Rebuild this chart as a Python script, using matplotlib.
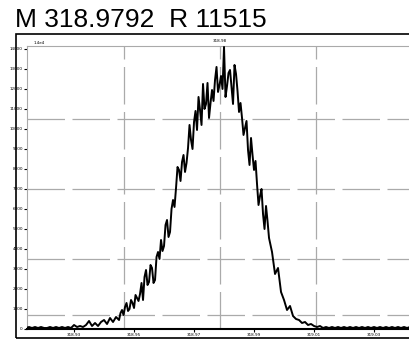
import matplotlib
matplotlib.use("Agg")
import matplotlib.pyplot as plt
from matplotlib.patches import Rectangle

# profile spectrum (m/z, counts)
mz = [318.914, 318.915, 318.916, 318.917, 318.918, 318.919, 318.920, 318.921, 318.922, 318.923,
      318.924, 318.925, 318.926, 318.927, 318.928, 318.929,
      318.930, 318.931, 318.932, 318.933, 318.934, 318.935, 318.936, 318.937, 318.938, 318.939,
      318.940, 318.941, 318.942, 318.943, 318.944,
      318.9450, 318.9455, 318.9460, 318.9465, 318.9470, 318.9475, 318.9480, 318.9485, 318.9490, 318.9495,
      318.9500, 318.9505, 318.9510, 318.9515, 318.9520, 318.9525, 318.9530, 318.9535, 318.9540, 318.9545,
      318.9550, 318.9555, 318.9560, 318.9565, 318.9570, 318.9575, 318.9580, 318.9585, 318.9590, 318.9595,
      318.9600, 318.9605, 318.9610, 318.9615, 318.9620, 318.9625, 318.9630, 318.9635, 318.9640, 318.9645,
      318.9650, 318.9655, 318.9660, 318.9665, 318.9670, 318.9675, 318.9680, 318.9685, 318.9690, 318.9695,
      318.9700, 318.9705, 318.9710, 318.9715, 318.9720, 318.9725, 318.9730, 318.9735, 318.9740, 318.9745,
      318.9750, 318.9755, 318.9760, 318.9765, 318.9770, 318.9775, 318.9780, 318.9785, 318.9790, 318.9795,
      318.9800, 318.9805, 318.9810, 318.9815, 318.9820, 318.9825, 318.9830, 318.9835, 318.9840, 318.9845,
      318.9850, 318.9855, 318.9860, 318.9865, 318.9870, 318.9875, 318.9880, 318.9885, 318.9890, 318.9895,
      318.9900, 318.9905, 318.9910, 318.9915, 318.9920, 318.9925, 318.9930, 318.9935, 318.9940, 318.9945,
      318.9950,
      318.996, 318.997, 318.998, 318.999,
      319.000, 319.001, 319.002, 319.003, 319.004, 319.005, 319.006, 319.007, 319.008, 319.009,
      319.010, 319.011, 319.012, 319.013,
      319.014, 319.015, 319.016, 319.017, 319.018, 319.019, 319.020, 319.021, 319.022, 319.023,
      319.024, 319.025, 319.026, 319.027, 319.028, 319.029, 319.030, 319.031, 319.032, 319.033,
      319.034, 319.035, 319.036, 319.037, 319.038, 319.039, 319.040, 319.041, 319.042]
counts = [50, 100, 50, 100, 50, 100, 50, 50, 100, 50, 100, 50, 100, 50, 100, 50,
          200, 100, 150, 100, 200, 400, 150, 300, 150, 350,
          450, 250, 550, 350, 600,
          450, 800, 950, 700, 1100, 1300, 900, 1000, 1450, 1300,
          1050, 1700, 1550, 1400, 1750, 2300, 1450, 2600, 2950, 2200,
          2350, 3200, 3050, 2300, 2450, 3600, 3850, 3500, 4450, 3900,
          4150, 5200, 5450, 4600, 4850, 6000, 6450, 6100, 7050, 8100,
          7950, 7400, 8350, 8700, 7850, 8300, 9050, 10200, 9450, 9000,
          10350, 10900, 9950, 11600, 10950, 10200, 12250, 11000, 11250, 12300,
          10550, 11300, 11950, 11400, 12450, 13100, 11850, 12200, 12650, 12000,
          14100, 11600, 12150, 12800, 12950, 12100, 11250, 13200, 12750, 11900,
          10850, 11300, 10550, 9700, 10050, 10400, 8950, 8200, 9550, 8700,
          7950, 8400, 7250, 6200, 6650, 7000, 5750, 5000, 6150, 5400,
          4550,
          3850, 2750, 3050, 1850,
          1450, 950, 1150, 650, 500, 450, 300, 350, 200, 250,
          150, 100, 150, 50,
          100, 50, 100, 50, 100, 50, 100, 50, 100, 50,
          100, 50, 100, 50, 100, 50, 100, 50, 100, 50,
          100, 50, 100, 50, 100, 50, 100, 50, 100]

xticks = [318.93, 318.95, 318.97, 318.99, 319.01, 319.03]
xtick_labels = ["318.93", "318.95", "318.97", "318.99", "319.01", "319.03"]
yticks = [0, 1000, 2000, 3000, 4000, 5000, 6000, 7000, 8000, 9000, 10000, 11000, 12000, 13000, 14000]
grid_mz = [318.9467, 318.9787, 319.0107]
grid_counts = [700, 3500, 7000, 10500]

title = "M 318.9792  R 11515"

fig = plt.figure(figsize=(4.10, 3.41), dpi=100)
ax = fig.add_axes([0.0659, 0.0352, 0.9585, 0.830])

for g in grid_mz:
    ax.axvline(g, color="#aaaaaa", linewidth=0.9, linestyle=(0, (30, 6)), zorder=1)
for g in grid_counts:
    ax.axhline(g, color="#aaaaaa", linewidth=0.9, linestyle=(0, (30, 6)), zorder=1)

ax.plot(mz, counts, color="black", linewidth=1.4, zorder=3)

ax.set_xlim(318.91433, 319.04533)
ax.set_ylim(0, 14150)
ax.set_xticks(xticks)
ax.set_xticklabels(xtick_labels, fontsize=3)
ax.set_yticks(yticks)
ax.set_yticklabels([str(v) for v in yticks], fontsize=3)
ax.tick_params(axis="both", length=2, width=0.8, pad=1)

ax.spines["right"].set_visible(False)
ax.spines["top"].set_color("#aaaaaa")
ax.spines["left"].set_color("#aaaaaa")
ax.spines["bottom"].set_linewidth(1.5)

# small markers above the frame
ax.text(318.9787, 1.01, "318.98", transform=ax.get_xaxis_transform(),
        fontsize=3, ha="center", va="bottom")
ax.text(318.9165, 1.005, "1.4e4", transform=ax.get_xaxis_transform(),
        fontsize=3, ha="left", va="bottom")

# outer box of the scanned panel
fig.patches.append(Rectangle((0.039, 0.0088), 1.2, 0.891, transform=fig.transFigure,
                             fill=False, edgecolor="black", linewidth=1.2))

fig.text(0.037, 0.9208, title, fontsize=19, family="Liberation Sans",
         va="baseline", ha="left")

plt.savefig("out.png", dpi=100)
